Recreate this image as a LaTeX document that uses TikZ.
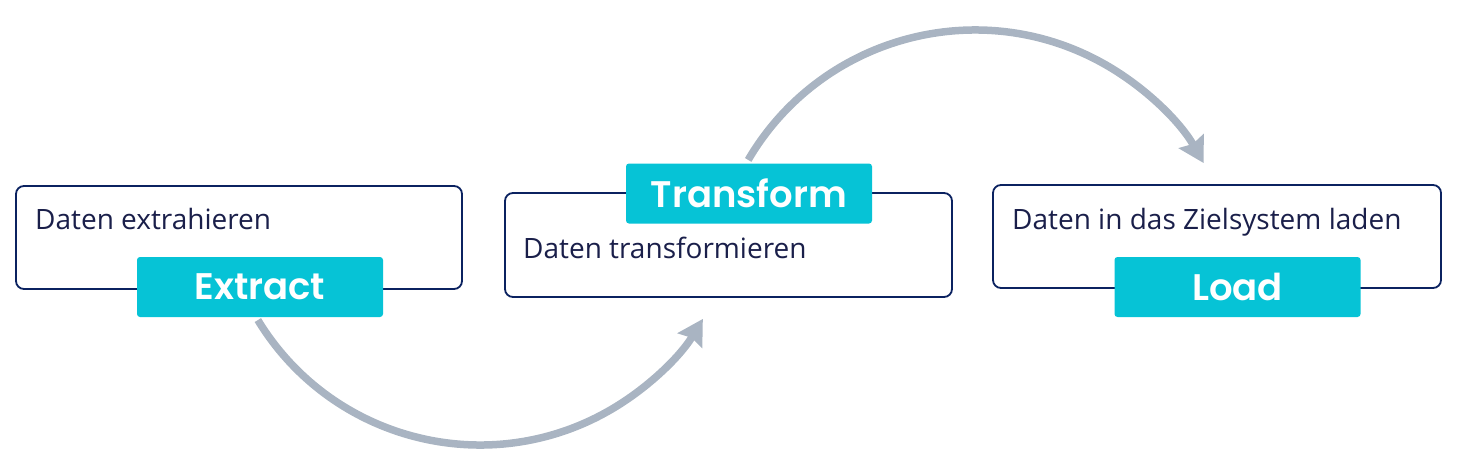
\documentclass[tikz,border=0pt]{standalone}
\usepackage{fontspec}
\setmainfont{Open Sans}
\newfontfamily\labelfont{Poppins}[UprightFont=* SemiBold]
\usetikzlibrary{arrows.meta}
\definecolor{navy}{HTML}{0B2260}
\definecolor{txt}{HTML}{1A1F4A}
\definecolor{cyanlbl}{HTML}{06C3D6}
\definecolor{arcgray}{HTML}{A9B4C2}
\tikzset{
  box/.style={draw=navy, line width=1.8pt, rounded corners=8pt, fill=white, inner sep=0pt},
  desc/.style={anchor=base west, inner sep=0pt, text=txt, font=\fontsize{28}{32}\selectfont},
  lbl/.style={fill=cyanlbl, rounded corners=3pt, inner sep=0pt, minimum width=246pt, minimum height=60pt, text=white, font=\labelfont\fontsize{37}{42}\selectfont},
  flow/.style={draw=arcgray, line width=7.5pt, -{Stealth[length=25pt,width=28pt,inset=3pt]}}
}
\begin{document}
\begin{tikzpicture}[x=1pt,y=-1pt]
\useasboundingbox (0,0) rectangle (1458,474);
% arcs first (under labels)
\coordinate (c1) at (480,185);
\coordinate (c2) at (975,293);
\draw[flow] ([shift={(211.3:260pt)}]c1) arc[start angle=211.3, end angle=329, radius=260pt];
\draw[flow] ([shift={(149.6:263pt)}]c2) arc[start angle=149.6, end angle=29.6, radius=263pt];
% boxes
\node[box, minimum width=446pt, minimum height=103pt] (b1) at (239,237.5) {};
\node[box, minimum width=447pt, minimum height=104pt] (b2) at (728.5,245) {};
\node[box, minimum width=448pt, minimum height=103pt] (b3) at (1217,236.5) {};
% descriptions
\node[desc] (d1) at (35,229) {Daten extrahieren};
\node[desc] (d2) at (523,258) {Daten transformieren};
\node[desc] (d3) at (1012,229) {Daten in das Zielsystem laden};
% labels
\node[lbl] (l1) at (260,287) {Extract};
\node[lbl] (l2) at (749,193.5) {Transform};
\node[lbl] (l3) at (1237.5,287) {Load};
\end{tikzpicture}
\end{document}
